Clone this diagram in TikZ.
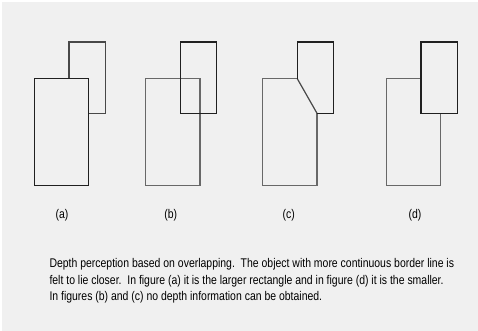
\documentclass[tikz,border=0pt]{standalone}
\usepackage{fontspec}
\setmainfont{Liberation Sans}
\newfontfamily\capfont[FakeStretch=0.83]{Liberation Sans}
\definecolor{panel}{HTML}{F0F0F0}
\definecolor{edgedark}{HTML}{202020}
\definecolor{edgemid}{HTML}{484848}
\definecolor{edgelight}{HTML}{686868}
\begin{document}
\begin{tikzpicture}[x=1pt,y=-1pt,
  frontline/.style={draw=edgedark,line width=1.2pt},
  backline/.style={draw=edgemid,line width=1.2pt},
  softline/.style={draw=edgelight,line width=1.2pt},
  caption/.style={font=\capfont\fontsize{12.6}{15}\selectfont,anchor=base west,inner sep=0pt,text=black},
  tag/.style={font=\capfont\fontsize{12.6}{15}\selectfont,anchor=base,inner sep=0pt,text=black}]
\useasboundingbox (0,0) rectangle (478,331);
\fill[white] (0,0) rectangle (478,331);
\fill[panel] (2,2) rectangle (478,331);

% (a) the larger rectangle in front
\draw[backline] (69,78.7) -- (69,42) -- (105.3,42) -- (105.3,113.3) -- (88.3,113.3);
\draw[frontline] (34.3,78.7) rectangle (88.3,185.7);

% (b) both outlines complete
\draw[softline] (145.7,78.7) rectangle (200,185.7);
\draw[frontline] (180.3,42) rectangle (216.7,113.3);

% (c) the two outlines joined by a slanted edge
\draw[softline] (297.3,78.7) -- (262.3,78.7) -- (262.3,185.7) -- (317,185.7) -- (317,113.3);
\draw[backline] (297.3,78.7) -- (317,113.3);
\draw[frontline] (297.3,78.7) -- (297.3,42) -- (333.3,42) -- (333.3,113.3) -- (317,113.3);

% (d) the smaller rectangle in front
\draw[softline] (421,78.7) -- (386.7,78.7) -- (386.7,185.7) -- (440.7,185.7) -- (440.7,113.3);
\draw[frontline] (421,42) rectangle (457.7,113.3);

% panel tags
\node[tag] (tagA) at (62,218.5) {(a)};
\node[tag] (tagB) at (170.7,218.5) {(b)};
\node[tag] (tagC) at (288.7,218.5) {(c)};
\node[tag] (tagD) at (415,218.5) {(d)};

% caption
\node[caption] (capA) at (49.3,267.3) {Depth perception based on overlapping.\ \ The object with more continuous border line is};
\node[caption] (capB) at (49.3,284) {felt to lie closer.\ \ In figure (a) it is the larger rectangle and in figure (d) it is the smaller.};
\node[caption] (capC) at (49.3,300.7) {In figures (b) and (c) no depth information can be obtained.};
\end{tikzpicture}
\end{document}
